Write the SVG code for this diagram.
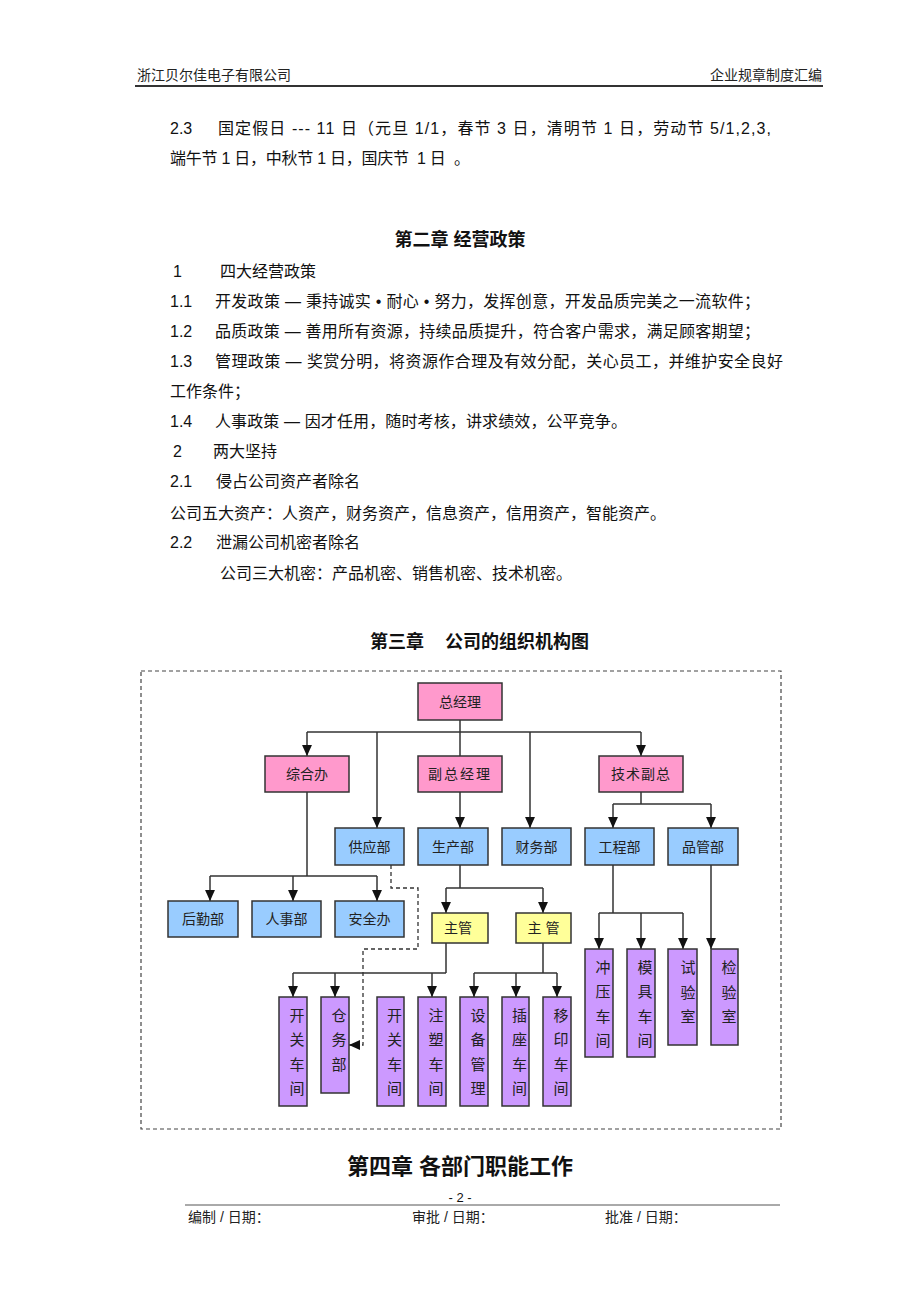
<svg xmlns="http://www.w3.org/2000/svg" width="920" height="1302" viewBox="0 0 920 1302">
<style>
text{font-family:'Liberation Sans','Noto Sans CJK SC',sans-serif;fill:#111}
.b{font-size:16px}
.h{font-size:14px;fill:#222}
.t{font-weight:bold;font-size:18px}
.n{font-size:14px;fill:#222;text-anchor:middle}
.v{font-size:15px;fill:#222;text-anchor:middle}
.pk{fill:#FF99CC;stroke:#333;stroke-width:1.5}
.bl{fill:#99CCFF;stroke:#333;stroke-width:1.5}
.yl{fill:#FFFF99;stroke:#333;stroke-width:1.5}
.pp{fill:#CC99FF;stroke:#333;stroke-width:1.5}
.c{fill:none;stroke:#333;stroke-width:1.5}
.a{marker-end:url(#arr)}
.d{fill:none;stroke:#333;stroke-width:1.3;stroke-dasharray:4 3}
</style>
<defs>
<marker id="arr" viewBox="0 0 10 9" refX="10" refY="4.5" markerWidth="11" markerHeight="10" markerUnits="userSpaceOnUse" orient="auto">
<path d="M0,0 L10,4.5 L0,9 z" fill="#111"/>
</marker>
</defs>
<rect width="920" height="1302" fill="#fff"/>

<!-- header -->
<g id="header">
<text class="h" x="137" y="80">浙江贝尔佳电子有限公司</text>
<text class="h" x="822" y="80" text-anchor="end">企业规章制度汇编</text>
<line x1="135" y1="86" x2="823" y2="86" stroke="#333" stroke-width="2"/>
</g>

<!-- body text -->
<g id="body">
<text class="b" x="170" y="134">2.3</text>
<text class="b" x="218" y="134" textLength="553" lengthAdjust="spacing">国定假日 --- 11 日（元旦 1/1，春节 3 日，清明节 1 日，劳动节 5/1,2,3,</text>
<text class="b" x="170" y="164" textLength="300" lengthAdjust="spacing" xml:space="preserve">端午节 1 日，中秋节 1 日，国庆节  1 日  。</text>
<text class="t" x="460" y="246" text-anchor="middle">第二章 经营政策</text>
<text class="b" x="173" y="277">1</text>
<text class="b" x="220" y="277">四大经营政策</text>
<text class="b" x="170" y="307">1.1</text>
<text class="b" x="215" y="307" textLength="545" lengthAdjust="spacing">开发政策 — 秉持诚实 • 耐心 • 努力，发挥创意，开发品质完美之一流软件；</text>
<text class="b" x="170" y="337">1.2</text>
<text class="b" x="215" y="337" textLength="545" lengthAdjust="spacing">品质政策 — 善用所有资源，持续品质提升，符合客户需求，满足顾客期望；</text>
<text class="b" x="170" y="367">1.3</text>
<text class="b" x="215" y="367" textLength="568" lengthAdjust="spacing">管理政策 — 奖赏分明，将资源作合理及有效分配，关心员工，并维护安全良好</text>
<text class="b" x="170" y="397">工作条件；</text>
<text class="b" x="170" y="427">1.4</text>
<text class="b" x="215" y="427" textLength="412" lengthAdjust="spacing">人事政策 — 因才任用，随时考核，讲求绩效，公平竞争。</text>
<text class="b" x="173" y="457">2</text>
<text class="b" x="213" y="457">两大坚持</text>
<text class="b" x="170" y="487">2.1</text>
<text class="b" x="216" y="487">侵占公司资产者除名</text>
<text class="b" x="170" y="519">公司五大资产：人资产，财务资产，信息资产，信用资产，智能资产。</text>
<text class="b" x="170" y="548">2.2</text>
<text class="b" x="216" y="548">泄漏公司机密者除名</text>
<text class="b" x="220" y="579">公司三大机密：产品机密、销售机密、技术机密。</text>
<text class="t" x="370" y="648">第三章</text>
<text class="t" x="445" y="648">公司的组织机构图</text>
</g>

<!-- frame -->
<rect id="frame" x="141" y="671" width="640" height="458" fill="none" stroke="#444" stroke-width="1.2" stroke-dasharray="4 3"/>

<!-- connectors -->
<g id="connectors">
<path class="c" d="M460,720 V756"/>
<path class="c" d="M307,732 H641"/>
<path class="c a" d="M307,732 V756"/>
<path class="c a" d="M377,732 V828"/>
<path class="c a" d="M530,732 V828"/>
<path class="c a" d="M641,732 V756"/>
<path class="c a" d="M460,792 V828"/>
<path class="c" d="M641,792 V804 M613,804 H711"/>
<path class="c a" d="M613,804 V828"/>
<path class="c a" d="M711,804 V828"/>
<path class="c" d="M307,792 V876 M210,876 H377"/>
<path class="c a" d="M210,876 V901"/>
<path class="c a" d="M293,876 V901"/>
<path class="c a" d="M377,876 V901"/>
<path class="c" d="M460,865 V888 M446,888 H543"/>
<path class="c a" d="M446,888 V913"/>
<path class="c a" d="M543,888 V913"/>
<path class="c" d="M446,943 V973 M293,973 H446"/>
<path class="c a" d="M293,973 V997"/>
<path class="c a" d="M335,973 V997"/>
<path class="c a" d="M432,973 V997"/>
<path class="c" d="M543,943 V973 M474,973 H557"/>
<path class="c a" d="M474,973 V997"/>
<path class="c a" d="M516,973 V997"/>
<path class="c a" d="M557,973 V997"/>
<path class="c" d="M613,865 V913 M599,913 H683"/>
<path class="c a" d="M599,913 V949"/>
<path class="c a" d="M641,913 V949"/>
<path class="c a" d="M683,913 V949"/>
<path class="c a" d="M711,865 V949"/>
<path class="d a" d="M391,865 V888 H418 V949 H363 V1045 H349"/>
</g>

<!-- nodes -->
<g id="n-zjl"><rect class="pk" x="418" y="683" width="84" height="37"/><text class="n" x="460" y="706.5">总经理</text></g>
<g id="n-zhb"><rect class="pk" x="265" y="756" width="84" height="36"/><text class="n" x="307" y="779">综合办</text></g>
<g id="n-fzjl"><rect class="pk" x="418" y="756" width="84" height="36"/><text class="n" x="460" y="779" letter-spacing="2">副总经理</text></g>
<g id="n-jsfz"><rect class="pk" x="599" y="756" width="84" height="36"/><text class="n" x="641" y="779" letter-spacing="1">技术副总</text></g>
<g id="n-gyb"><rect class="bl" x="335" y="828" width="69" height="37"/><text class="n" x="369.5" y="851.5">供应部</text></g>
<g id="n-scb"><rect class="bl" x="418" y="828" width="70" height="37"/><text class="n" x="453" y="851.5">生产部</text></g>
<g id="n-cwb"><rect class="bl" x="502" y="828" width="69" height="37"/><text class="n" x="536.5" y="851.5">财务部</text></g>
<g id="n-gcb"><rect class="bl" x="585" y="828" width="69" height="37"/><text class="n" x="619.5" y="851.5">工程部</text></g>
<g id="n-pgb"><rect class="bl" x="668" y="828" width="70" height="37"/><text class="n" x="703" y="851.5">品管部</text></g>
<g id="n-hqb"><rect class="bl" x="168" y="901" width="70" height="36"/><text class="n" x="203" y="924">后勤部</text></g>
<g id="n-rsb"><rect class="bl" x="252" y="901" width="69" height="36"/><text class="n" x="286.5" y="924">人事部</text></g>
<g id="n-aqb"><rect class="bl" x="335" y="901" width="69" height="36"/><text class="n" x="369.5" y="924">安全办</text></g>
<g id="n-zg1"><rect class="yl" x="432" y="913" width="56" height="30"/><text class="n" x="458" y="933">主管</text></g>
<g id="n-zg2"><rect class="yl" x="516" y="913" width="55" height="30"/><text class="n" x="543.5" y="933" xml:space="preserve">主 管</text></g>

<g id="n-kg1"><rect class="pp" x="279" y="997" width="28" height="109"/>
<text class="v" x="297" y="1020.5">开</text><text class="v" x="297" y="1045">关</text><text class="v" x="297" y="1069.5">车</text><text class="v" x="297" y="1094">间</text></g>
<g id="n-cwb2"><rect class="pp" x="321" y="997" width="28" height="96"/>
<text class="v" x="339" y="1020.5">仓</text><text class="v" x="339" y="1045">务</text><text class="v" x="339" y="1069.5">部</text></g>
<g id="n-kg2"><rect class="pp" x="377" y="997" width="27" height="109"/>
<text class="v" x="394.5" y="1020.5">开</text><text class="v" x="394.5" y="1045">关</text><text class="v" x="394.5" y="1069.5">车</text><text class="v" x="394.5" y="1094">间</text></g>
<g id="n-zs"><rect class="pp" x="418" y="997" width="28" height="109"/>
<text class="v" x="436" y="1020.5">注</text><text class="v" x="436" y="1045">塑</text><text class="v" x="436" y="1069.5">车</text><text class="v" x="436" y="1094">间</text></g>
<g id="n-sbgl"><rect class="pp" x="460" y="997" width="28" height="109"/>
<text class="v" x="478" y="1020.5">设</text><text class="v" x="478" y="1045">备</text><text class="v" x="478" y="1069.5">管</text><text class="v" x="478" y="1094">理</text></g>
<g id="n-cz"><rect class="pp" x="502" y="997" width="27" height="109"/>
<text class="v" x="519.5" y="1020.5">插</text><text class="v" x="519.5" y="1045">座</text><text class="v" x="519.5" y="1069.5">车</text><text class="v" x="519.5" y="1094">间</text></g>
<g id="n-yy"><rect class="pp" x="543" y="997" width="28" height="109"/>
<text class="v" x="561" y="1020.5">移</text><text class="v" x="561" y="1045">印</text><text class="v" x="561" y="1069.5">车</text><text class="v" x="561" y="1094">间</text></g>
<g id="n-cy"><rect class="pp" x="585" y="949" width="28" height="108"/>
<text class="v" x="603" y="972.5">冲</text><text class="v" x="603" y="997">压</text><text class="v" x="603" y="1021.5">车</text><text class="v" x="603" y="1046">间</text></g>
<g id="n-mj"><rect class="pp" x="627" y="949" width="28" height="108"/>
<text class="v" x="645" y="972.5">模</text><text class="v" x="645" y="997">具</text><text class="v" x="645" y="1021.5">车</text><text class="v" x="645" y="1046">间</text></g>
<g id="n-sys"><rect class="pp" x="668" y="949" width="29" height="96"/>
<text class="v" x="688" y="973" font-size="17">试</text><text class="v" x="688" y="998" font-size="17">验</text><text class="v" x="688" y="1022" font-size="17">室</text></g>
<g id="n-jys"><rect class="pp" x="711" y="949" width="27" height="96"/>
<text class="v" x="729" y="973" font-size="16">检</text><text class="v" x="729" y="998" font-size="16">验</text><text class="v" x="729" y="1022" font-size="16">室</text></g>

<!-- footer -->
<g id="footer">
<text x="460" y="1174" text-anchor="middle" font-weight="bold" font-size="22">第四章 各部门职能工作</text>
<text x="460" y="1202" text-anchor="middle" font-size="13">- 2 -</text>
<line x1="185" y1="1205" x2="780" y2="1205" stroke="#555" stroke-width="1"/>
<text class="h" x="188" y="1222">编制 / 日期：</text>
<text class="h" x="412" y="1222">审批 / 日期：</text>
<text class="h" x="605" y="1222">批准 / 日期：</text>
</g>
</svg>
